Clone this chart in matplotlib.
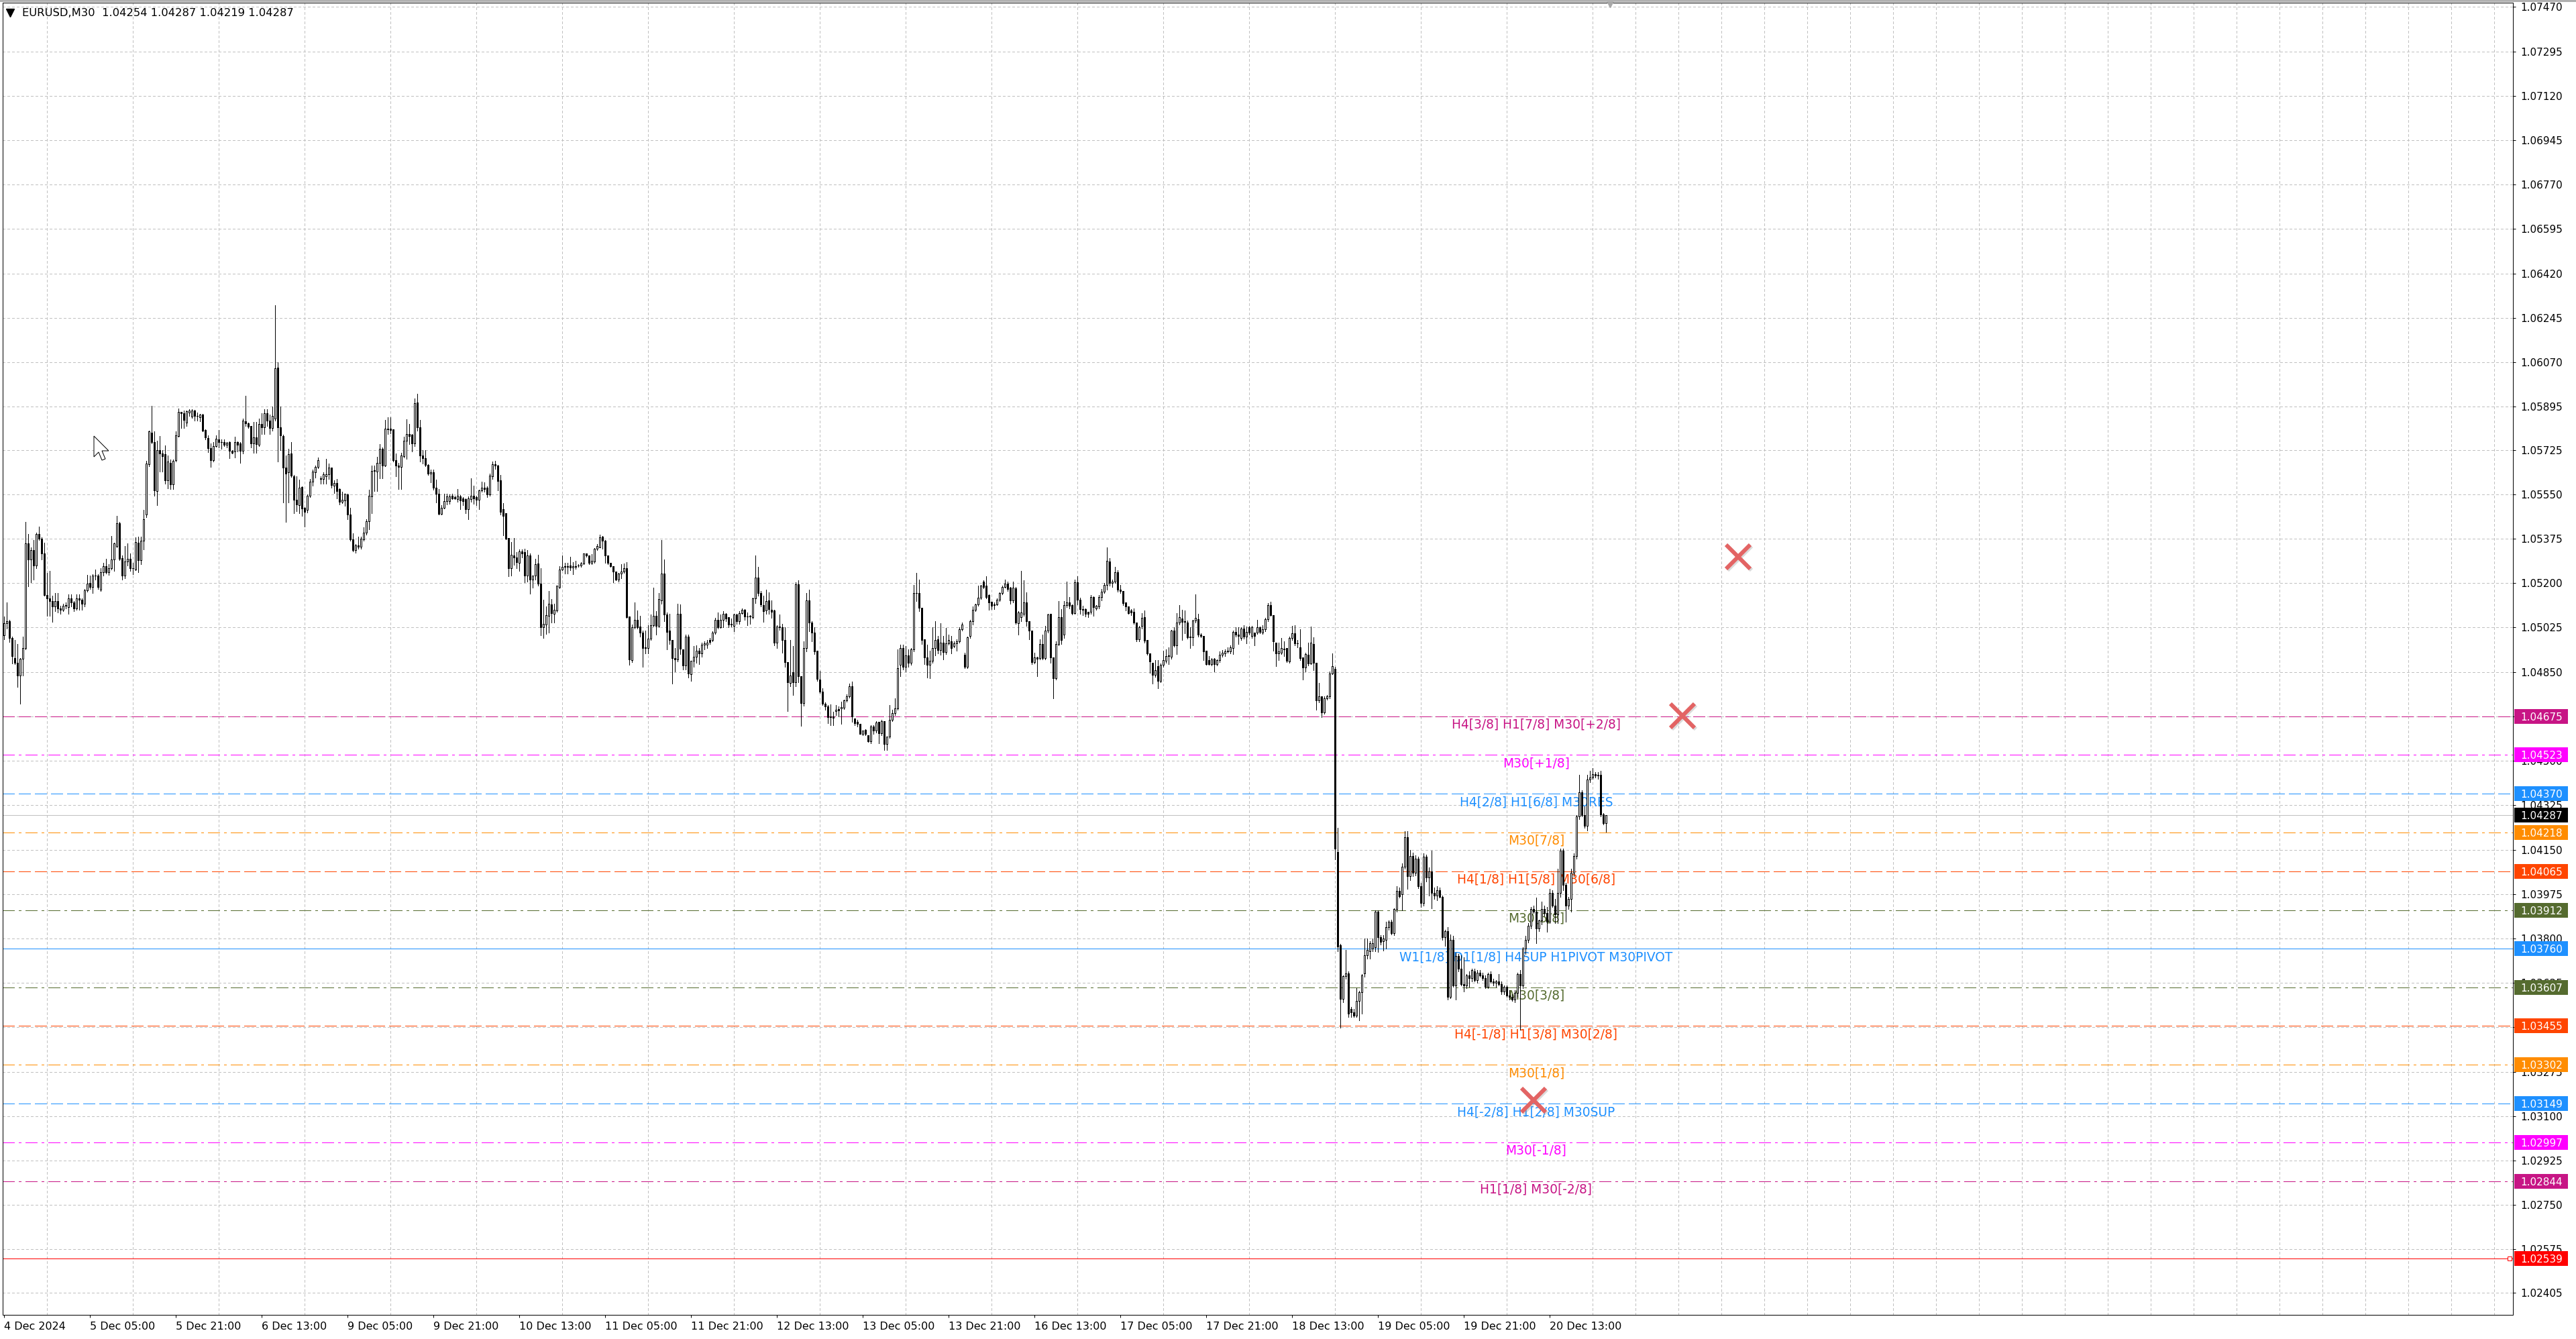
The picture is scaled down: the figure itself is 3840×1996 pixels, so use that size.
import numpy as np
import pandas as pd
import matplotlib
matplotlib.use("Agg")
import matplotlib.pyplot as plt
import matplotlib.transforms as mtransforms
from matplotlib.patches import Rectangle, Polygon
from matplotlib.lines import Line2D

# EURUSD M30 candles, (open, high, low, close) in pips above 1.0000
dec04 = [(499.4, 506.9, 497.8, 504.2), (504.2, 512.3, 502.1, 505.0), (505.0, 505.5, 496.7, 498.3),
         (498.3, 499.0, 488.3, 491.3), (490.4, 497.5, 488.0, 488.6), (488.6, 496.0, 479.2, 483.7),
         (483.7, 490.5, 472.4, 490.2), (490.2, 498.8, 483.7, 494.5), (494.5, 544.2, 494.0, 535.6),
         (535.6, 539.4, 518.8, 529.3), (529.3, 534.0, 520.2, 533.1), (533.1, 537.0, 521.5, 527.0),
         (527.0, 540.0, 526.0, 539.4), (539.4, 542.3, 537.0, 537.4), (537.4, 538.0, 529.3, 531.8),
         (531.8, 535.9, 515.0, 515.2), (515.2, 524.0, 507.0, 514.0), (514.0, 524.8, 507.0, 513.0),
         (513.0, 515.0, 504.8, 510.7), (510.7, 516.0, 509.0, 513.0), (513.0, 516.0, 508.5, 510.0),
         (510.0, 511.0, 508.0, 509.6)]
dec05 = [(509.6, 512.0, 509.0, 511.0), (511.0, 512.3, 509.9, 511.3), (510.5, 515.6, 508.0, 514.0),
         (514.0, 515.6, 510.8, 512.3), (512.3, 513.0, 509.0, 510.0), (510.0, 515.6, 509.5, 514.0),
         (514.0, 515.6, 509.6, 513.4), (513.4, 514.0, 509.6, 512.0), (511.8, 517.7, 510.8, 517.2),
         (517.2, 523.2, 516.5, 519.9), (520.0, 523.0, 517.7, 518.5), (518.5, 523.5, 516.1, 523.1),
         (523.1, 525.3, 521.4, 523.0), (523.0, 523.5, 517.7, 518.5), (517.5, 525.8, 517.0, 524.2),
         (524.2, 528.0, 523.0, 526.6), (526.6, 529.6, 523.7, 524.4), (524.4, 527.5, 523.2, 526.0),
         (525.8, 538.6, 525.3, 529.4), (529.4, 535.8, 524.8, 535.6), (534.7, 546.6, 534.0, 543.7),
         (543.7, 544.2, 529.0, 529.6), (529.9, 531.0, 521.5, 523.1), (523.1, 534.5, 522.0, 528.6),
         (528.5, 535.6, 527.0, 529.6), (529.6, 531.8, 524.8, 525.8), (525.8, 528.0, 523.5, 525.9),
         (525.3, 538.0, 525.0, 536.1), (536.0, 538.3, 524.2, 529.0), (529.0, 538.3, 527.5, 536.8),
         (536.8, 549.0, 533.4, 545.3), (546.9, 568.2, 546.0, 567.1), (566.9, 580.0, 566.0, 579.7),
         (579.4, 589.8, 575.0, 575.6), (575.6, 579.9, 554.4, 556.6), (556.3, 576.0, 550.7, 572.3),
         (572.3, 578.0, 564.0, 571.0), (571.0, 572.3, 564.0, 570.0), (570.8, 574.3, 559.3, 560.6),
         (560.4, 570.2, 557.3, 567.8), (567.5, 568.6, 557.0, 558.8), (558.8, 568.6, 557.0, 568.3),
         (568.5, 579.9, 568.0, 578.3), (578.0, 588.7, 577.6, 587.4), (587.4, 587.6, 581.0, 586.9),
         (587.0, 588.0, 581.0, 584.4), (583.3, 588.0, 582.0, 587.8), (587.2, 588.5, 586.0, 588.0)]
dec06 = [(585.5, 588.5, 585.2, 588.0), (588.0, 588.2, 584.0, 586.0), (586.0, 587.2, 584.0, 585.8),
         (585.4, 586.6, 583.7, 586.4), (586.4, 586.6, 579.9, 580.1), (580.4, 580.5, 576.6, 577.5),
         (577.2, 578.2, 571.5, 573.2), (573.2, 575.0, 565.8, 568.5), (568.5, 575.6, 568.0, 574.0),
         (574.0, 578.3, 573.6, 576.9), (576.7, 580.4, 573.4, 575.6), (575.6, 576.7, 572.9, 575.5),
         (575.5, 576.7, 574.0, 574.5), (574.5, 575.6, 573.4, 575.3), (575.5, 575.8, 569.1, 572.1),
         (572.1, 572.3, 571.0, 571.4), (571.8, 577.7, 569.6, 575.6), (575.6, 575.8, 572.0, 574.5),
         (575.0, 575.5, 567.4, 572.1), (572.1, 584.7, 571.0, 584.0), (583.7, 593.9, 582.0, 583.1),
         (583.0, 583.3, 581.0, 581.7), (582.0, 582.0, 573.4, 575.0), (575.0, 583.6, 571.4, 577.5),
         (577.5, 583.6, 571.4, 574.7), (574.5, 584.7, 574.0, 582.6), (582.6, 586.9, 578.8, 581.5),
         (581.5, 588.5, 578.8, 586.9), (586.9, 588.5, 582.0, 584.0), (584.0, 586.4, 578.8, 581.2),
         (581.0, 589.6, 580.0, 585.8), (584.7, 629.6, 584.0, 604.7), (605.0, 607.1, 568.0, 581.5),
         (581.5, 589.6, 572.3, 578.3), (578.0, 578.6, 551.8, 565.6), (565.6, 570.2, 544.0, 563.1),
         (563.8, 572.8, 551.8, 570.7), (571.2, 575.6, 561.7, 562.3), (562.0, 562.5, 547.5, 552.8),
         (552.8, 562.0, 548.3, 550.9), (550.7, 560.9, 547.5, 557.7), (557.9, 558.0, 546.4, 549.4),
         (549.8, 550.0, 542.3, 548.0), (548.9, 555.0, 547.9, 554.5), (554.5, 561.0, 554.0, 559.9),
         (559.9, 564.7, 558.5, 563.9), (563.7, 566.4, 561.6, 565.8), (565.8, 569.5, 565.3, 568.5)]
dec09 = [(561.2, 562.0, 559.3, 561.0), (561.0, 563.7, 559.3, 562.8), (562.0, 569.0, 559.3, 562.8),
         (562.8, 567.0, 561.0, 565.6), (565.6, 565.6, 557.7, 558.7), (558.3, 560.5, 555.4, 559.4),
         (559.4, 561.0, 553.3, 556.2), (557.0, 557.4, 551.0, 552.0), (552.0, 556.0, 551.5, 552.9),
         (552.6, 555.1, 550.5, 555.1), (555.0, 555.2, 545.3, 546.9), (546.9, 549.6, 536.6, 537.2),
         (537.2, 539.6, 532.5, 533.1), (533.1, 535.5, 532.0, 535.0), (535.0, 538.3, 533.6, 534.3),
         (534.3, 538.3, 533.6, 537.4), (537.2, 542.0, 536.6, 539.9), (539.9, 545.1, 539.0, 544.4),
         (544.4, 556.9, 541.2, 554.5), (554.2, 566.4, 547.5, 564.2), (564.2, 566.4, 556.3, 564.5),
         (564.0, 569.7, 556.3, 567.5), (567.5, 574.7, 561.4, 572.9), (572.9, 573.4, 561.4, 566.4),
         (566.4, 584.2, 566.0, 580.9), (580.9, 585.3, 578.8, 580.6), (580.9, 585.3, 579.0, 580.4),
         (580.6, 580.6, 568.0, 568.5), (568.5, 571.2, 562.0, 566.4), (566.4, 567.4, 557.0, 565.8),
         (565.8, 571.4, 557.2, 570.3), (570.0, 577.6, 569.5, 576.0), (576.0, 584.5, 569.0, 578.8),
         (578.8, 582.6, 574.7, 577.9), (578.4, 578.8, 571.8, 575.0), (575.0, 592.8, 574.0, 590.9),
         (591.2, 594.5, 580.0, 581.5), (581.5, 584.3, 568.0, 570.2), (570.2, 572.3, 567.0, 569.3),
         (569.1, 572.3, 566.0, 566.7), (566.7, 566.9, 562.5, 563.1), (563.1, 564.7, 559.8, 563.6),
         (563.6, 564.7, 556.7, 557.7), (557.7, 560.9, 551.9, 555.1), (555.1, 557.2, 546.9, 547.2),
         (547.2, 550.6, 546.9, 549.8), (549.8, 555.1, 549.5, 552.3), (552.3, 555.1, 551.0, 554.2)]
dec10 = [(552.3, 555.0, 551.2, 554.1), (554.4, 555.2, 553.0, 553.4), (553.9, 554.4, 553.0, 553.4),
         (553.1, 557.2, 552.0, 554.5), (554.2, 554.7, 549.1, 552.6), (553.4, 553.9, 550.7, 552.3),
         (553.0, 553.4, 547.5, 549.1), (549.1, 554.2, 545.3, 553.4), (553.1, 561.4, 552.0, 554.5),
         (554.5, 558.3, 551.3, 553.4), (553.9, 554.3, 550.7, 552.8), (552.8, 556.9, 549.1, 556.6),
         (556.6, 559.9, 556.1, 557.7), (557.7, 559.6, 556.0, 557.2), (557.7, 558.0, 553.9, 555.0),
         (555.0, 563.1, 554.5, 562.3), (562.1, 568.0, 561.0, 566.9), (566.9, 568.2, 565.0, 566.4),
         (566.4, 566.7, 556.6, 560.2), (560.4, 562.5, 547.0, 548.2), (549.1, 551.5, 538.8, 546.6),
         (547.5, 547.5, 537.2, 537.5), (537.9, 537.9, 522.8, 525.8), (525.8, 536.1, 523.0, 531.3),
         (531.0, 537.8, 527.1, 530.0), (530.2, 532.3, 525.8, 528.2), (528.0, 533.2, 524.8, 532.5),
         (532.5, 533.4, 530.0, 531.8), (532.3, 533.6, 520.4, 523.1), (523.1, 532.9, 520.6, 531.0),
         (531.0, 531.8, 515.9, 521.3), (521.3, 523.1, 518.3, 523.1), (523.1, 529.6, 521.5, 527.5),
         (527.8, 531.3, 519.0, 519.9), (519.9, 525.8, 499.4, 502.6), (502.6, 513.4, 498.4, 504.0),
         (503.7, 510.7, 499.9, 507.5), (507.0, 516.8, 500.4, 511.8), (511.7, 513.6, 504.5, 508.3),
         (508.0, 512.0, 504.5, 509.5), (509.3, 519.0, 508.6, 518.9), (518.6, 526.8, 518.0, 525.4),
         (525.4, 531.0, 525.0, 526.5), (526.7, 528.0, 523.9, 526.3), (526.3, 528.0, 523.9, 526.7),
         (527.0, 530.5, 525.0, 526.1), (526.1, 528.3, 523.4, 526.7), (526.7, 528.7, 525.6, 526.4)]
dec11 = [(526.9, 527.4, 526.3, 526.9), (526.9, 528.3, 526.5, 527.8), (527.8, 531.8, 527.4, 531.6),
         (531.6, 531.8, 530.3, 530.9), (530.9, 530.9, 527.4, 528.0), (528.1, 531.4, 527.4, 528.9),
         (528.6, 533.8, 528.0, 533.6), (533.6, 535.3, 533.1, 534.5), (534.2, 539.1, 534.0, 538.0),
         (538.4, 538.6, 533.6, 536.7), (536.8, 537.1, 528.0, 530.9), (530.9, 530.9, 527.4, 528.0),
         (528.0, 528.0, 526.5, 526.8), (526.8, 526.8, 520.4, 524.5), (524.5, 524.5, 521.0, 521.5),
         (521.5, 524.0, 520.6, 523.9), (523.7, 527.4, 521.8, 524.5), (524.5, 527.8, 524.0, 525.9),
         (525.9, 528.3, 506.3, 506.7), (506.9, 506.9, 487.8, 490.0), (489.8, 503.6, 489.0, 502.7),
         (502.7, 512.4, 502.0, 505.6), (505.6, 509.3, 502.0, 502.7), (503.0, 507.1, 498.8, 500.5),
         (500.5, 501.4, 486.9, 494.5), (494.5, 501.4, 492.2, 494.8), (494.5, 503.4, 492.2, 498.1),
         (498.1, 507.6, 497.5, 503.4), (503.4, 518.2, 503.0, 507.1), (507.1, 508.9, 499.7, 503.2),
         (503.2, 516.0, 502.7, 513.8), (513.3, 537.1, 512.0, 523.9), (523.9, 529.2, 505.0, 507.6),
         (507.6, 508.5, 494.0, 500.7), (501.4, 508.0, 496.0, 497.5), (497.5, 497.5, 480.3, 490.4),
         (490.4, 494.4, 485.1, 490.0), (490.0, 512.0, 489.1, 508.0), (508.0, 511.5, 492.0, 494.2),
         (494.0, 494.0, 486.0, 487.5), (487.5, 499.7, 486.0, 499.0), (498.8, 499.7, 482.9, 484.5),
         (484.2, 489.5, 481.6, 489.5), (489.5, 495.3, 486.9, 491.0), (491.0, 495.5, 488.6, 493.5),
         (493.5, 494.4, 488.2, 492.2), (492.2, 496.6, 491.0, 495.7), (495.7, 497.0, 494.0, 496.2)]
dec12 = [(495.7, 497.5, 494.5, 496.6), (497.5, 498.3, 496.1, 496.8), (497.5, 501.0, 497.0, 500.5),
         (500.5, 506.3, 500.0, 505.4), (505.4, 508.5, 502.0, 502.7), (502.7, 507.6, 502.3, 505.6),
         (505.6, 508.9, 502.7, 507.8), (507.8, 508.3, 505.0, 506.0), (506.5, 506.5, 502.7, 503.6),
         (503.6, 506.0, 503.0, 504.0), (503.2, 508.0, 501.0, 507.6), (507.6, 508.0, 504.0, 505.1),
         (505.1, 508.9, 504.0, 508.3), (508.3, 509.9, 507.9, 509.5), (509.4, 509.8, 505.5, 506.8),
         (506.8, 508.5, 503.4, 506.9), (506.8, 507.5, 504.0, 507.2), (506.5, 514.2, 506.0, 513.9),
         (513.9, 530.9, 512.2, 522.1), (522.1, 526.3, 515.0, 516.2), (516.2, 516.8, 510.9, 511.5),
         (511.3, 515.1, 504.8, 508.9), (509.2, 517.3, 508.0, 512.9), (513.1, 516.4, 508.0, 509.8),
         (509.5, 513.3, 506.3, 508.6), (509.2, 509.5, 495.4, 496.6), (496.6, 503.4, 494.4, 503.0),
         (503.0, 507.6, 501.5, 502.7), (502.7, 504.0, 492.6, 497.6), (497.5, 502.7, 487.0, 488.9),
         (489.0, 489.0, 469.7, 481.0), (480.7, 497.5, 479.4, 483.6), (484.9, 495.3, 476.0, 481.0),
         (481.0, 520.4, 479.4, 519.5), (519.5, 521.0, 481.0, 483.4), (483.4, 483.4, 463.7, 472.8),
         (472.8, 497.0, 471.6, 494.4), (494.4, 516.0, 493.0, 513.3), (513.3, 517.4, 501.0, 504.5),
         (504.5, 505.0, 497.0, 500.5), (500.5, 502.5, 492.0, 493.0), (493.3, 493.5, 481.6, 482.2),
         (482.0, 485.4, 476.6, 477.2), (477.2, 478.5, 472.0, 472.5), (472.5, 473.0, 470.0, 471.5),
         (471.5, 472.0, 464.9, 467.2), (467.2, 472.2, 464.0, 467.6), (467.6, 469.3, 464.0, 466.9)]
dec13 = [(469.6, 471.9, 468.1, 470.2), (470.3, 471.5, 467.6, 469.9), (470.6, 473.2, 464.6, 471.2),
         (471.0, 474.1, 470.5, 473.7), (473.7, 476.3, 473.2, 475.4), (475.4, 480.3, 475.0, 479.4),
         (479.4, 481.2, 465.3, 467.5), (466.6, 466.6, 464.0, 464.9), (465.3, 466.2, 463.6, 464.6),
         (464.6, 464.6, 460.5, 460.7), (460.7, 462.0, 460.0, 461.9), (462.2, 462.5, 460.0, 460.5),
         (460.2, 460.2, 457.4, 457.8), (457.8, 464.0, 457.0, 463.5), (463.5, 464.0, 460.5, 461.8),
         (461.8, 465.7, 461.0, 465.1), (465.3, 465.3, 456.9, 460.9), (460.9, 466.2, 460.0, 465.7),
         (465.7, 465.7, 454.3, 456.5), (456.5, 459.6, 454.3, 459.6), (459.6, 471.9, 459.0, 466.2),
         (466.2, 470.1, 465.7, 468.8), (468.8, 474.5, 468.0, 470.6), (470.6, 493.9, 470.0, 486.4),
         (487.8, 495.7, 483.4, 494.5), (494.5, 495.7, 486.0, 486.9), (486.9, 495.3, 485.1, 491.6),
         (491.6, 494.0, 487.0, 488.7), (488.7, 494.4, 487.8, 493.9), (493.9, 519.2, 493.0, 516.2),
         (516.0, 524.1, 512.9, 516.2), (516.0, 521.5, 508.9, 510.2), (510.4, 510.4, 496.1, 497.5),
         (497.9, 497.9, 488.2, 490.7), (490.7, 495.7, 482.9, 487.8), (487.8, 493.3, 482.5, 489.3),
         (489.3, 502.5, 488.7, 494.5), (494.5, 505.0, 491.4, 497.7), (497.9, 499.2, 492.2, 493.7),
         (493.7, 504.2, 491.7, 496.6), (496.6, 499.2, 489.9, 492.8), (492.8, 502.3, 492.0, 496.2),
         (496.2, 499.8, 495.8, 497.5), (497.1, 499.2, 492.2, 494.5), (495.3, 497.1, 494.8, 496.4),
         (496.4, 497.9, 493.5, 497.1), (497.1, 502.7, 496.5, 501.9), (501.9, 504.5, 501.4, 503.6)]
dec16 = [(491.7, 492.6, 486.4, 486.9), (486.9, 498.8, 486.4, 498.6), (499.2, 505.4, 498.5, 505.0),
         (505.0, 510.9, 503.6, 509.5), (509.5, 512.0, 509.0, 511.5), (511.5, 519.0, 511.0, 514.2),
         (514.2, 519.2, 513.6, 518.9), (520.6, 521.2, 518.0, 518.6), (518.9, 522.7, 514.0, 514.6),
         (515.3, 515.6, 509.5, 512.4), (512.6, 512.6, 509.8, 511.1), (511.7, 512.3, 509.8, 511.3),
         (511.7, 514.0, 511.3, 513.5), (513.5, 516.4, 513.0, 516.0), (516.0, 519.0, 515.7, 518.6),
         (518.6, 521.5, 518.2, 519.7), (519.7, 520.6, 517.0, 517.7), (518.2, 518.5, 512.0, 513.3),
         (513.3, 520.6, 512.5, 518.2), (518.0, 518.5, 504.0, 504.5), (504.2, 508.9, 499.8, 508.5),
         (506.7, 524.8, 505.0, 508.5), (508.0, 521.0, 507.0, 512.4), (512.4, 516.4, 503.2, 505.0),
         (505.1, 505.1, 497.9, 501.2), (501.4, 501.4, 488.2, 489.0), (489.0, 492.6, 488.4, 490.7),
         (490.7, 491.0, 483.4, 490.3), (490.5, 497.9, 490.0, 496.1), (496.1, 499.7, 490.0, 490.5),
         (490.5, 503.2, 490.0, 501.4), (501.4, 508.0, 500.5, 507.6), (507.8, 508.0, 488.6, 490.8),
         (490.8, 490.8, 474.5, 482.5), (482.5, 497.0, 482.0, 496.1), (496.1, 512.9, 495.6, 506.7),
         (506.5, 509.8, 496.0, 497.5), (499.7, 512.9, 498.5, 511.3), (511.3, 520.6, 510.5, 512.4),
         (512.4, 514.6, 510.0, 511.1), (511.3, 511.5, 507.6, 508.3), (508.3, 521.5, 507.9, 520.2),
         (520.2, 522.7, 511.5, 513.5), (513.5, 514.2, 508.0, 509.8), (509.8, 511.1, 507.5, 509.6),
         (509.8, 510.0, 506.9, 508.0), (508.8, 508.8, 506.5, 507.9), (508.8, 515.4, 508.0, 514.4)]
dec17 = [(514.4, 514.8, 507.1, 510.5), (510.0, 511.4, 509.5, 511.1), (510.8, 515.4, 510.1, 514.4),
         (514.4, 517.6, 513.1, 516.7), (516.7, 520.0, 516.0, 519.3), (519.3, 534.2, 517.3, 528.9),
         (528.5, 529.8, 519.0, 520.0), (520.0, 521.3, 518.6, 520.6), (520.6, 526.5, 520.0, 524.2),
         (524.3, 525.2, 516.5, 517.3), (517.3, 519.3, 516.0, 517.0), (517.0, 517.0, 511.4, 512.1),
         (512.3, 512.3, 509.2, 510.8), (510.8, 510.8, 507.9, 508.1), (509.2, 509.7, 507.5, 508.4),
         (508.8, 510.1, 504.0, 504.4), (504.4, 504.4, 497.0, 497.9), (497.9, 503.1, 497.0, 502.6),
         (503.1, 508.1, 502.0, 506.2), (506.5, 509.2, 496.5, 497.3), (497.6, 497.6, 491.7, 492.3),
         (492.3, 492.3, 484.7, 489.1), (488.7, 488.7, 480.5, 483.8), (483.8, 489.7, 483.0, 485.8),
         (487.4, 489.7, 478.5, 481.6), (481.6, 488.4, 481.0, 487.7), (487.7, 493.4, 487.0, 489.7),
         (489.4, 493.9, 488.7, 491.3), (491.3, 494.7, 488.0, 491.4), (491.1, 501.6, 490.3, 501.3),
         (501.3, 502.6, 495.0, 495.6), (495.6, 508.1, 492.1, 504.4), (504.4, 511.4, 503.8, 506.5),
         (506.1, 509.4, 497.6, 504.8), (505.1, 509.2, 500.2, 504.8), (504.4, 505.2, 498.0, 498.7),
         (498.7, 502.6, 494.3, 498.8), (498.7, 505.5, 495.6, 505.2), (505.2, 515.7, 504.5, 506.2),
         (505.8, 507.9, 499.0, 499.6), (499.6, 500.2, 498.7, 499.2), (499.2, 499.2, 489.7, 493.0),
         (493.4, 493.4, 487.7, 488.1), (489.7, 491.3, 487.7, 488.1), (488.1, 490.4, 487.5, 490.0),
         (490.2, 490.5, 485.1, 488.1), (488.1, 490.0, 487.5, 489.7), (489.7, 493.0, 489.0, 491.7)]
dec18 = [(491.7, 493.7, 491.0, 492.6), (492.4, 493.9, 491.3, 493.0), (493.0, 494.7, 492.6, 493.4),
         (493.0, 495.6, 492.3, 494.7), (494.3, 501.3, 492.1, 500.9), (500.9, 502.6, 499.0, 499.6),
         (499.6, 502.6, 496.0, 499.2), (498.3, 502.6, 497.6, 502.2), (502.2, 503.5, 498.0, 498.9),
         (498.9, 502.9, 496.3, 500.9), (502.6, 503.1, 499.6, 500.5), (499.2, 503.1, 498.5, 502.6),
         (500.5, 500.5, 495.6, 499.2), (500.5, 505.5, 500.0, 502.6), (502.6, 502.9, 500.2, 500.9),
         (500.5, 503.5, 500.0, 501.8), (501.8, 506.2, 501.0, 505.8), (505.8, 512.1, 505.0, 511.4),
         (511.4, 512.7, 507.0, 507.5), (507.5, 507.5, 493.4, 497.0), (496.6, 496.6, 487.4, 492.3),
         (492.3, 496.6, 489.7, 493.0), (492.6, 498.3, 492.0, 494.3), (494.0, 497.0, 491.3, 494.1),
         (494.3, 494.3, 489.0, 489.4), (489.1, 498.9, 488.5, 498.3), (498.3, 503.1, 497.6, 500.2),
         (500.2, 503.5, 495.6, 496.3), (496.3, 497.6, 494.7, 496.2), (494.7, 501.8, 489.7, 490.4),
         (490.8, 490.8, 482.1, 486.8), (486.8, 492.6, 485.1, 492.1), (491.7, 496.6, 487.5, 488.4),
         (488.4, 502.9, 488.0, 496.6), (496.0, 498.7, 485.8, 488.7), (488.7, 488.7, 470.0, 473.7),
         (473.7, 480.8, 473.0, 475.3), (475.5, 475.5, 467.1, 469.0), (469.0, 475.3, 468.5, 474.6),
         (474.6, 475.9, 474.0, 475.3), (475.3, 485.1, 474.6, 484.5), (484.5, 492.4, 484.0, 487.4),
         (486.2, 487.0, 411.1, 415.4), (414.1, 423.7, 375.0, 376.9), (377.3, 377.8, 344.8, 356.3),
         (356.3, 365.5, 355.0, 365.1), (365.1, 375.6, 364.0, 366.3), (366.3, 367.0, 349.0, 350.3)]
dec19 = [(352.3, 353.0, 349.0, 351.0), (351.0, 352.3, 349.0, 349.7), (349.7, 360.5, 349.0, 355.3),
         (355.3, 359.3, 347.7, 358.9), (358.9, 365.9, 350.3, 365.5), (366.3, 380.0, 365.0, 373.5),
         (373.4, 380.0, 372.0, 375.5), (374.9, 378.9, 372.0, 378.2), (376.1, 380.0, 375.0, 378.0),
         (376.6, 391.1, 375.0, 390.5), (390.5, 391.1, 374.7, 380.6), (380.6, 381.2, 377.7, 378.6),
         (378.8, 381.4, 375.2, 380.1), (379.5, 386.5, 376.0, 384.6), (384.6, 387.0, 383.5, 386.5),
         (386.5, 387.5, 381.5, 382.0), (382.0, 392.0, 381.3, 391.5), (391.5, 400.6, 390.5, 398.7),
         (398.7, 400.2, 396.0, 396.7), (397.5, 409.6, 391.0, 408.3), (408.3, 422.4, 407.5, 419.8),
         (419.8, 422.4, 399.6, 404.5), (404.5, 415.0, 403.0, 412.4), (412.4, 413.7, 404.5, 405.8),
         (405.8, 412.8, 404.8, 411.5), (411.5, 412.1, 399.9, 400.6), (400.6, 402.0, 392.5, 394.0),
         (394.0, 413.5, 393.0, 412.1), (412.1, 413.0, 402.5, 404.0), (404.0, 408.0, 397.0, 406.5),
         (406.5, 414.5, 392.0, 398.0), (398.0, 400.0, 395.5, 397.0), (397.0, 400.5, 395.0, 399.0),
         (399.0, 400.0, 396.0, 396.5), (396.5, 397.0, 379.5, 380.5), (380.5, 383.5, 377.0, 383.0),
         (383.0, 384.6, 356.0, 357.0), (357.0, 381.5, 356.5, 379.5), (379.5, 381.0, 361.0, 361.5),
         (361.5, 374.5, 356.0, 373.0), (373.0, 374.0, 367.0, 368.0), (368.0, 373.5, 361.5, 362.0),
         (362.0, 372.5, 359.0, 361.5), (361.5, 366.0, 360.5, 365.5), (365.5, 367.0, 361.0, 364.5),
         (364.5, 368.0, 363.0, 367.5), (367.0, 368.0, 363.0, 363.5), (363.5, 367.5, 362.5, 366.5)]
dec20 = [(366.5, 367.5, 365.0, 365.5), (365.5, 366.5, 363.5, 364.5), (364.5, 365.5, 360.5, 361.0),
         (361.0, 366.5, 360.5, 366.0), (366.0, 367.0, 362.5, 363.0), (363.0, 364.0, 361.5, 362.5),
         (362.5, 363.5, 361.0, 363.0), (363.0, 366.0, 361.5, 362.0), (362.0, 363.0, 358.0, 359.0),
         (359.0, 361.5, 358.0, 361.0), (361.0, 361.5, 357.0, 357.5), (357.5, 359.5, 356.0, 357.0),
         (357.0, 358.0, 355.5, 356.0), (356.0, 359.5, 355.0, 358.5), (358.5, 366.5, 357.0, 366.0),
         (366.0, 367.5, 344.0, 361.5), (361.5, 376.5, 360.5, 376.0), (376.0, 381.0, 374.0, 379.5),
         (379.5, 386.0, 378.5, 385.0), (385.0, 392.5, 384.0, 391.5), (391.5, 393.0, 390.0, 390.5),
         (390.5, 396.0, 378.0, 384.0), (384.0, 387.5, 383.0, 387.0), (387.0, 394.5, 385.5, 391.5),
         (391.5, 393.0, 389.0, 390.0), (390.0, 392.5, 382.5, 386.5), (386.5, 399.5, 386.0, 398.0),
         (398.0, 399.0, 392.5, 393.0), (393.0, 395.5, 386.0, 389.5), (389.5, 407.5, 386.0, 398.0),
         (398.0, 415.5, 396.5, 414.5), (414.5, 415.5, 399.0, 401.0), (401.0, 402.0, 386.5, 393.0),
         (393.0, 396.5, 391.5, 395.5), (395.5, 407.5, 390.5, 406.0), (406.0, 413.5, 404.5, 412.5),
         (412.5, 428.5, 411.5, 428.0), (428.0, 444.5, 427.0, 437.5), (437.5, 438.5, 428.0, 428.5),
         (428.5, 432.0, 423.5, 424.5), (424.5, 444.5, 422.5, 442.5), (442.5, 446.0, 441.5, 443.5),
         (443.5, 447.0, 443.0, 444.8), (444.8, 445.5, 443.5, 444.3), (444.3, 445.5, 443.0, 444.5),
         (444.5, 446.0, 428.0, 429.0), (429.0, 429.5, 425.0, 425.5), (425.4, 428.7, 421.9, 428.7)]

# price axis ticks (as printed on the right scale)
price_ticks = [1.07470, 1.07295, 1.07120, 1.06945, 1.06770, 1.06595, 1.06420, 1.06245, 1.06070,
               1.05895, 1.05725, 1.05550, 1.05375, 1.05200, 1.05025, 1.04850, 1.04675, 1.04500,
               1.04325, 1.04150, 1.03975, 1.03800, 1.03625, 1.03450, 1.03275, 1.03100, 1.02925,
               1.02750, 1.02575, 1.02405]

# Murrey-style levels drawn as horizontal lines
level_prices = [1.04675, 1.04523, 1.04370, 1.04218, 1.04065, 1.03912, 1.03760,
                1.03607, 1.03455, 1.03302, 1.03149, 1.02997, 1.02844, 1.02539]
level_texts = ["H4[3/8] H1[7/8] M30[+2/8]", "M30[+1/8]", "H4[2/8] H1[6/8] M30RES", "M30[7/8]",
               "H4[1/8] H1[5/8] M30[6/8]", "M30[5/8]", "W1[1/8] D1[1/8] H4SUP H1PIVOT M30PIVOT",
               "M30[3/8]", "H4[-1/8] H1[3/8] M30[2/8]", "M30[1/8]", "H4[-2/8] H1[2/8] M30SUP",
               "M30[-1/8]", "H1[1/8] M30[-2/8]", ""]

# red cross objects (bar index, price)
cross_bars = [570.0, 625.5, 646.3]
cross_prices = [1.03163, 1.04678, 1.05304]

# ---------------------------------------------------------------- style
W, H, DPI = 3840, 1996, 100
PX = 72.0 / DPI
plt.rcParams['font.family'] = ['DejaVu Sans']
plt.rcParams['lines.scale_dashes'] = False

level_colors = ['#C71585', '#FF00FF', '#1E90FF', '#FF8C00', '#FF4500', '#556B2F', '#1E90FF',
                '#556B2F', '#FF4500', '#FF8C00', '#1E90FF', '#FF00FF', '#C71585', '#FF0000']
DASH = (0, (18 * PX, 6 * PX))
DASHDOT = (0, (18 * PX, 6 * PX, 3 * PX, 6 * PX))
level_ls = [DASH, DASHDOT, DASH, DASHDOT, DASH, DASHDOT, '-', DASHDOT, DASH, DASHDOT,
            DASH, DASHDOT, DASHDOT, '-']

bars = dec04 + dec05 + dec06 + dec09 + dec10 + dec11 + dec12 + dec13 + dec16 + dec17 + dec18 + dec19 + dec20
ohlc = 1.0 + np.array(bars) / 1e4
o, h, l, c = ohlc.T
h = np.maximum.reduce([h, o, c])
l = np.minimum.reduce([l, o, c])
x = np.arange(len(o))

times = pd.date_range("2024-12-04 13:00", "2024-12-20 23:30", freq="30min")
times = times[times.dayofweek < 5]

YLO, YHI = 1.02317, 1.07487
fig = plt.figure(figsize=(W / DPI, H / DPI), dpi=DPI)
fig.patch.set_facecolor('white')
ax = fig.add_axes([4 / W, 1 - 1960 / H, (3746 - 4) / W, (1960 - 4) / H])
ax.set_xlim(-0.5, 935)
ax.set_ylim(YLO, YHI)
ax.set_axisbelow(True)
for sp in ax.spines.values():
    sp.set_linewidth(PX)
    sp.set_color('black')

# axes, ticks, grid
ax.set_yticks(price_ticks)
ax.set_yticklabels([f"{v:.5f}" for v in price_ticks])
ax.yaxis.tick_right()
ax.tick_params(axis='y', length=4 * PX, width=PX, pad=7 * PX, labelsize=11)
label_idx = np.arange(0, len(times), 32)
ax.set_xticks(label_idx)
ax.set_xticklabels([f"{times[i].day} {times[i]:%b %Y}" if i == 0 else f"{times[i].day} {times[i]:%b %H:%M}"
                    for i in label_idx], ha='left')
ax.set_xticks(np.arange(16, 936, 16), minor=True)
ax.tick_params(axis='x', which='major', length=4 * PX, width=PX, pad=6 * PX, labelsize=11.5)
ax.tick_params(axis='x', which='minor', length=0)
grid_kw = dict(color='#c0c0c0', linewidth=PX, linestyle=(0, (3 * PX, 3 * PX)), antialiased=False)
ax.grid(True, which='minor', axis='x', **grid_kw)
ax.grid(True, which='major', axis='y', **grid_kw)

# level lines and their captions
for p, txt, col, ls in zip(level_prices, level_texts, level_colors, level_ls):
    ax.axhline(p, color=col, linewidth=PX, linestyle=ls, antialiased=False, zorder=1.8)
    if txt:
        ax.annotate(txt, (571, p), xytext=(0, -3 * PX), textcoords='offset points',
                    ha='center', va='top', color=col, fontsize=13.4, zorder=2)
ax.axhline(c[-1], color='#c0c0c0', linewidth=PX, antialiased=False, zorder=1.8)

# candles
ax.vlines(x, l, h, colors='black', linewidth=PX, antialiased=False, zorder=3)
up = c >= o
ax.bar(x, np.abs(c - o), bottom=np.minimum(o, c), width=0.55,
       color=np.where(up, 'white', 'black'), edgecolor='black', linewidth=PX,
       antialiased=False, zorder=4)

# crosses
ax.plot(np.array(cross_bars) + 0.5, np.array(cross_prices) - 0.00005, 'x', ms=26, mew=6 * PX,
        color='#999999', alpha=0.35, zorder=5)
ax.plot(cross_bars, cross_prices, 'x', ms=26, mew=6 * PX, color='#e36464', zorder=6)

# price labels on the right scale
trans = mtransforms.blended_transform_factory(fig.transFigure, ax.transData)
py = (YHI - YLO) / 1956.0
label_prices = level_prices + [c[-1]]
label_colors = level_colors + ['black']
for p, col in zip(label_prices, label_colors):
    ax.add_patch(Rectangle((3748 / W, p - 11 * py), 80 / W, 22 * py, transform=trans,
                           facecolor=col, edgecolor='none', clip_on=False, zorder=8))
    ax.text(3757 / W, p, f"{p:.5f}", transform=trans, ha='left', va='center_baseline',
            color='white', fontsize=11, zorder=9, clip_on=False)

# small marker on the red line end and chart shift marker
ax.plot([933.8], [level_prices[-1]], marker='s', ms=4 * PX * 1.4, mfc='white', mec='red',
        mew=PX, zorder=7, clip_on=False)
ax.plot([598.5], [YHI], marker='v', ms=10 * PX * 1.4, color='#a8a8a8', zorder=7, clip_on=False)

# mouse pointer left on the chart
cur = np.array([(0, 0), (0, 31), (7, 24), (12, 36), (17, 34), (12, 22), (22, 22)], float)
cur_x = (140 + cur[:, 0]) / W
cur_y = 1 - (650 + cur[:, 1]) / H
fig.add_artist(Polygon(np.column_stack([cur_x, cur_y]), closed=True, transform=fig.transFigure,
                       facecolor='white', edgecolor='black', linewidth=PX))

# header
fig.add_artist(Line2D([14.5 / W], [1 - 19 / H], marker='v', ms=8, color='black',
                      transform=fig.transFigure))
fig.text(33 / W, 1 - 19 / H, f"EURUSD,M30  {o[-1]:.5f} {h[-1]:.5f} {l[-1]:.5f} {c[-1]:.5f}",
         ha='left', va='center', fontsize=11.8)
fig.add_artist(Rectangle((0, 1 - 3 / H), 1, 3 / H, transform=fig.transFigure,
                         facecolor='#b0b0b0', edgecolor='none'))

fig.savefig("out.png", dpi=DPI)
